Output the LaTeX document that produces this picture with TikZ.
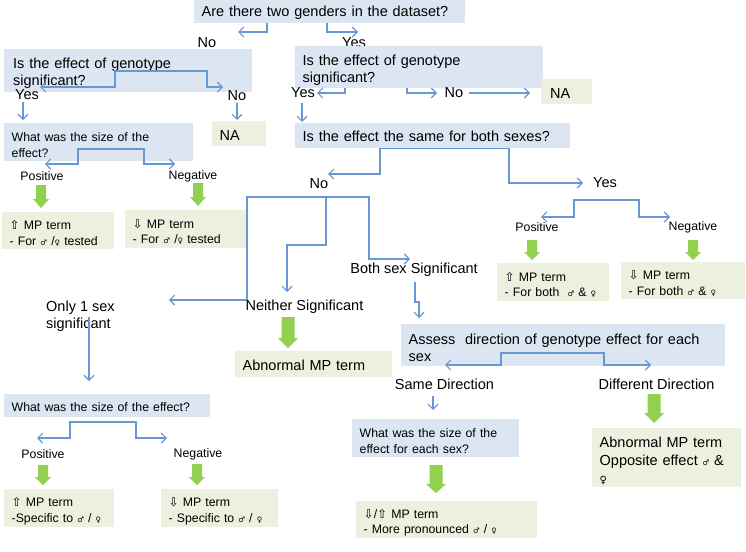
\documentclass[tikz,border=0pt]{standalone}
\usepackage{fontspec}
\setmainfont{Liberation Sans}
\newfontfamily\symf{DejaVu Sans}
\usetikzlibrary{arrows.meta}
\definecolor{qblue}{HTML}{DCE6F2}
\definecolor{qgreen}{HTML}{EBF1DE}
\definecolor{lnk}{RGB}{104,152,212}
\definecolor{garr}{HTML}{92D050}
\newcommand{\mal}{{\symf\fontsize{7.5}{7.5}\selectfont ♂}}
\newcommand{\fem}{{\symf\fontsize{7.5}{7.5}\selectfont ♀}}
\newcommand{\bigfem}{{\symf\fontsize{10}{10}\selectfont ♀}}
\newcommand{\upa}{{\symf\fontsize{12}{12}\selectfont ⇧}}
\newcommand{\dna}{{\symf\fontsize{12}{12}\selectfont ⇩}}
\newcommand{\garrow}[6]{\fill[garr] (#1-#4,#2) -- (#1+#4,#2) -- (#1+#4,#3-#6) -- (#1+#5,#3-#6) -- (#1,#3) -- (#1-#5,#3-#6) -- (#1-#4,#3-#6) -- cycle;}
\tikzset{
  big/.style={font=\fontsize{14.5}{17}\selectfont},
  sm/.style={font=\fontsize{12.3}{15.5}\selectfont},
  st/.style={execute at begin node={\rule{0pt}{#1}}},
  qbox/.style={fill=qblue, anchor=north west, inner xsep=7.5pt, inner ysep=0pt, align=left},
  gbox/.style={fill=qgreen, anchor=north west, inner xsep=7.5pt, inner ysep=0pt, align=left},
  lbl/.style={inner sep=0pt},
  conn/.style={draw=lnk, line width=1.1pt, -{Straight Barb[length=5pt,width=10pt]}},
}
\begin{document}
\begin{tikzpicture}[x=1pt,y=-1pt]
\useasboundingbox (0,0) rectangle (746,551);
\fill[white] (0,0) rectangle (746,551);

% ---------- top question
\node[lbl,big] (noA) at (207,43) {No};
\node[lbl,big] (yesA) at (354,43) {Yes};
\node[qbox,big,st=12pt,minimum width=271pt,minimum height=23pt,text width=256pt] (q1) at (194,0) {Are there two genders in the dataset?};
\coordinate (tNoA) at (238,32);
\coordinate (tYesA) at (358,32);
\draw[conn] (267,0 |- q1.south) |- (tNoA);
\draw[conn] (327,0 |- q1.south) |- (tYesA);

% ---------- left: one gender
\node[qbox,big,st=16.5pt,inner xsep=9pt,minimum width=248pt,minimum height=43pt,text width=230pt] (q2) at (4,49) {Is the effect of genotype\\significant?};
\coordinate (j2) at (160,71);
\coordinate (tYesB) at (40,87);
\coordinate (tNoB) at (223,87);
\draw[conn] (j2) -| (115,87) -- (tYesB);
\draw[conn] (j2) -| (207,87) -- (tNoB);
\node[lbl,big] (yesB) at (27,95) {Yes};
\node[lbl,big] (noB) at (237,96) {No};
\node[gbox,big,st=13pt,minimum width=54pt,minimum height=25pt,text width=39pt] (naA) at (212,121) {NA};
\node[qbox,sm,st=15pt,minimum width=189pt,minimum height=38pt,text width=174pt] (q4) at (4,123) {What was the size of the\\effect?};
\draw[conn,shorten <=2pt,shorten >=3pt] (23,0 |- yesB.south) -- (23,0 |- q4.north);
\draw[conn,shorten <=2pt,shorten >=1pt] (237,0 |- noB.south) -- (237,0 |- naA.north);
\coordinate (j4) at (111,149);
\coordinate (tPosA) at (45,164);
\coordinate (tNegA) at (175,164);
\draw[conn] (j4) -| (78,164) -- (tPosA);
\draw[conn] (j4) -| (144,164) -- (tNegA);
\node[lbl,sm] (posA) at (42,176) {Positive};
\node[lbl,sm] (negA) at (193,176) {Negative};
\garrow{41}{185}{208}{5}{8}{9}
\garrow{198}{183}{206}{5}{8}{9}
\node[gbox,sm,st=15pt,minimum width=112pt,minimum height=37pt,text width=97pt] (gA1) at (2,212) {\upa\ MP term\\- For \mal\ /\fem\ tested};
\node[gbox,sm,st=15pt,minimum width=123pt,minimum height=38pt,text width=108pt] (gA2) at (125,210) {\dna\ MP term\\- For \mal\ /\fem\ tested};

% ---------- right: two genders
\node[qbox,big,st=16.5pt,minimum width=248pt,minimum height=42pt,text width=233pt] (q3) at (295,46) {Is the effect of genotype\\significant?};
\node[lbl,big] (yesC) at (303,93) {Yes};
\node[lbl,big] (noC) at (454,93) {No};
\coordinate (tYesC) at (317,93);
\coordinate (tNoC) at (437,93);
\draw[conn] (345,0 |- q3.south) |- (tYesC);
\draw[conn] (407,0 |- q3.south) |- (tNoC);
\node[gbox,big,st=13pt,inner xsep=9pt,minimum width=51pt,minimum height=25pt,text width=33pt] (naB) at (541,79) {NA};
\draw[conn,shorten <=6pt,shorten >=11pt] (noC.east) -- (noC.east -| naB.west);
\node[qbox,big,st=12pt,minimum width=275pt,minimum height=25pt,text width=260pt] (q5) at (295,123) {Is the effect the same for both sexes?};
\draw[conn,shorten <=5pt,shorten >=1pt] (302,0 |- yesC.south) -- (302,0 |- q5.north);
\node[lbl,big] (noD) at (319,184) {No};
\node[lbl,big] (yesD) at (605,183) {Yes};
\coordinate (tNoD) at (328,174);
\coordinate (tYesD) at (583,183);
\draw[conn] (380,0 |- q5.south) |- (tNoD);
\draw[conn] (380,0 |- q5.south) -- (509,0 |- q5.south) |- (tYesD);

% ---------- No branch
\coordinate (j5) at (326,197);
\coordinate (tOnly) at (169,300);
\coordinate (tBoth) at (410,259);
\coordinate (tNei) at (287,292);
\draw[conn] (j5) -| (247,300) -- (tOnly);
\draw[conn] (j5) -| (369,259) -- (tBoth);
\draw[conn] (j5) |- (287,245) -- (tNei);
\node[lbl,big] (both) at (414,270) {Both sex Significant};
\node[lbl,big] (neither) at (304.5,307) {Neither Significant};
\node[lbl,big,anchor=west,align=left] (only) at (46,316.5) {Only 1 sex\\significant};
\garrow{288}{317}{348}{6.5}{10}{10}
\node[gbox,big,st=13pt,minimum width=157pt,minimum height=26pt,text width=142pt] (gN) at (235,351) {Abnormal MP term};

\node[qbox,big,st=15.5pt,minimum width=324pt,minimum height=42pt,text width=309pt] (q6) at (401,324) {Assess\ \ direction of genotype effect for each\\sex};
\draw[conn,shorten <=5pt,shorten >=6pt] (415,0 |- both.south) -- (415,302) -- (419,302) -- (419,0 |- q6.north);
\coordinate (j6) at (552,353);
\coordinate (tSame) at (445,365);
\coordinate (tDiff) at (651,365);
\draw[conn] (j6) -| (501,365) -- (tSame);
\draw[conn] (j6) -| (604,365) -- (tDiff);
\node[lbl,big] (same) at (444.5,384) {Same Direction};
\node[lbl,big] (diff) at (656.5,384) {Different Direction};
\garrow{654}{394}{423}{6.5}{10}{10}
\node[gbox,font=\fontsize{14.5}{18}\selectfont,st=17pt,minimum width=149pt,minimum height=59pt,text width=134pt] (gOpp) at (592,428) {Abnormal MP term\\Opposite effect \mal\ \&\\\bigfem};
\node[qbox,sm,st=15pt,minimum width=167pt,minimum height=38pt,text width=152pt] (q8) at (352,419) {What was the size of the\\effect for each sex?};
\draw[conn,shorten <=6pt,shorten >=9pt] (433,0 |- same.south) -- (433,0 |- q8.north);
\garrow{436}{465}{493}{6.5}{10}{9}
\node[gbox,sm,st=15pt,minimum width=181pt,minimum height=37pt,text width=166pt] (gMore) at (356,501) {\dna/\upa\ MP term\\- More pronounced \mal\ / \fem};

% ---------- only one sex
\node[qbox,sm,st=11pt,minimum width=206pt,minimum height=23pt,text width=191pt] (q7) at (4,394) {What was the size of the effect?};
\draw[conn,shorten >=13pt] (89,0 |- only.center) -- (89,0 |- q7.north);
\coordinate (j7) at (103,422);
\coordinate (tPos2) at (37,438);
\coordinate (tNeg2) at (167,438);
\draw[conn] (j7) -| (70,438) -- (tPos2);
\draw[conn] (j7) -| (136,438) -- (tNeg2);
\node[lbl,sm] (pos2) at (43,454) {Positive};
\node[lbl,sm] (neg2) at (198,454) {Negative};
\garrow{43}{465}{485}{5}{8}{8}
\garrow{197}{464}{485}{5}{8}{8}
\node[gbox,sm,st=15pt,minimum width=110pt,minimum height=38pt,text width=95pt] (gB1) at (4,489) {\upa\ MP term\\-Specific to \mal\ / \fem};
\node[gbox,sm,st=15pt,minimum width=117pt,minimum height=38pt,text width=102pt] (gB2) at (161,489) {\dna\ MP term\\- Specific to \mal\ / \fem};

% ---------- yes branch (same effect)
\coordinate (j8) at (606,200);
\coordinate (tPos3) at (541,217);
\coordinate (tNeg3) at (670,217);
\draw[conn] (j8) -| (574,217) -- (tPos3);
\draw[conn] (j8) -| (639,217) -- (tNeg3);
\node[lbl,sm] (pos3) at (537,227) {Positive};
\node[lbl,sm] (neg3) at (693,227) {Negative};
\garrow{532}{240}{260}{5}{8}{8}
\garrow{693}{240}{260}{5}{8}{8}
\node[gbox,sm,st=15pt,minimum width=112pt,minimum height=38pt,text width=97pt] (gC1) at (497,263) {\upa\ MP term\\- For both \ \mal\ \& \fem};
\node[gbox,sm,st=15pt,minimum width=124pt,minimum height=37pt,text width=109pt] (gC2) at (621,262) {\dna\ MP term\\- For both \mal\ \& \fem};
\end{tikzpicture}
\end{document}
